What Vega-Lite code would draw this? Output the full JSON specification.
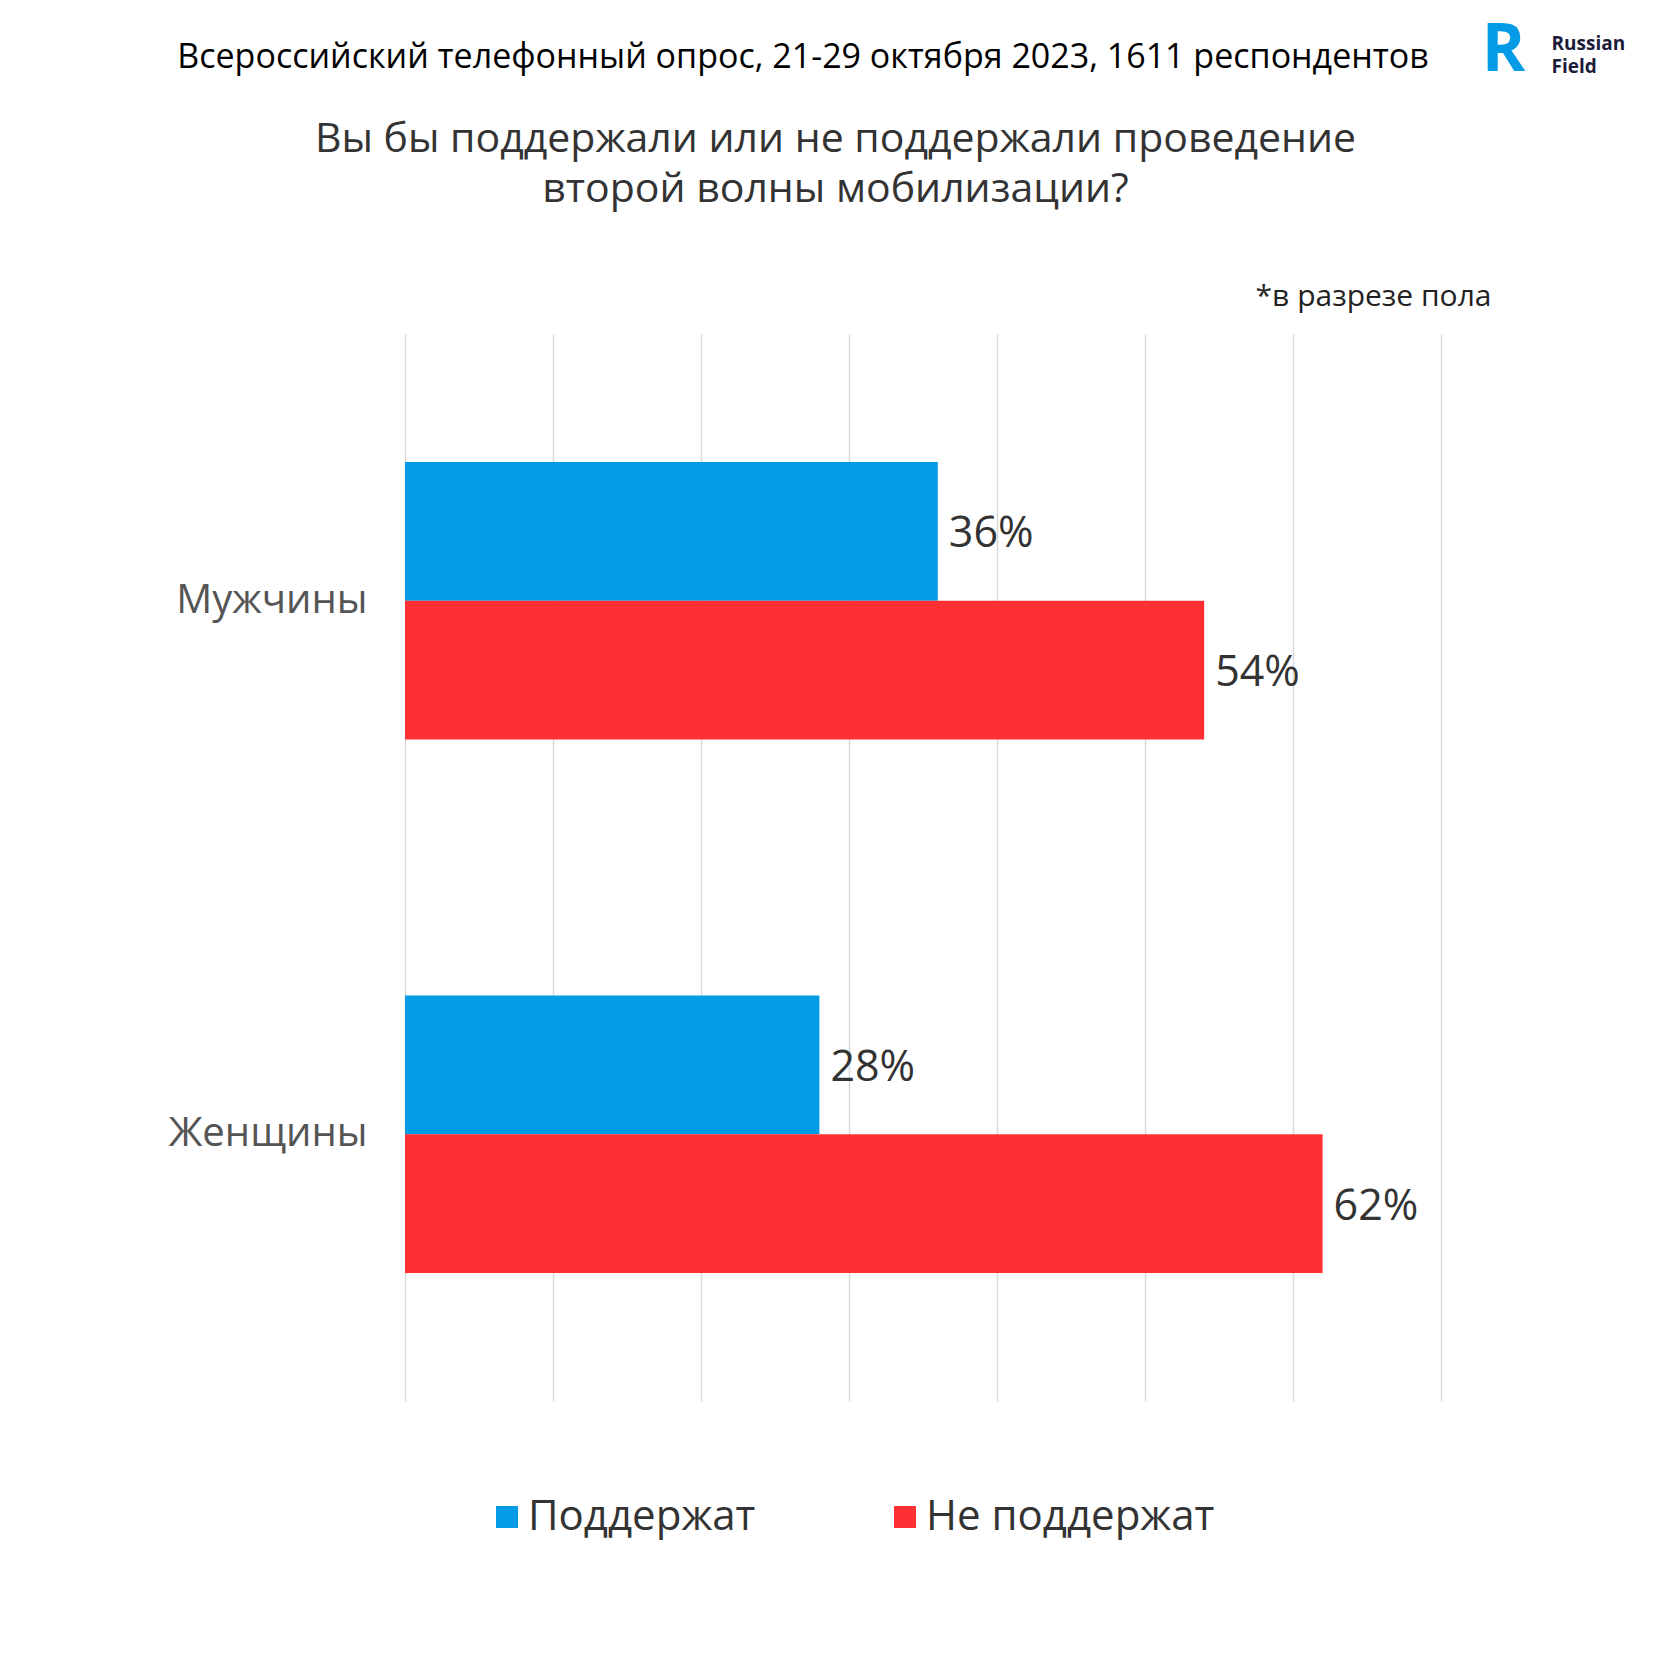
{
  "$schema": "https://vega.github.io/schema/vega-lite/v6.json",
  "autosize": "none",
  "width": 1036,
  "height": 1067,
  "padding": {"left": 405, "top": 334, "right": 239, "bottom": 279},
  "background": "white",
  "config": {"font": "Open Sans", "view": {"stroke": null}},
  "title": {
    "text": "Всероссийский телефонный опрос, 21-29 октября 2023, 1611 респондентов",
    "anchor": "middle",
    "frame": "group",
    "dx": -120,
    "offset": -75,
    "baseline": "middle",
    "fontSize": 34,
    "fontWeight": "normal",
    "color": "#000000"
  },
  "data": {
    "values": [
      {"group": "Мужчины", "answer": "Поддержат", "value": 0.36},
      {"group": "Мужчины", "answer": "Не поддержат", "value": 0.54},
      {"group": "Женщины", "answer": "Поддержат", "value": 0.28},
      {"group": "Женщины", "answer": "Не поддержат", "value": 0.62}
    ]
  },
  "encoding": {
    "y": {
      "field": "group",
      "type": "nominal",
      "sort": ["Мужчины", "Женщины"],
      "scale": {"paddingInner": 0.48, "paddingOuter": 0.24}
    },
    "yOffset": {
      "field": "answer",
      "type": "nominal",
      "sort": ["Поддержат", "Не поддержат"],
      "scale": {"paddingInner": 0, "paddingOuter": 0}
    }
  },
  "layer": [
    {
      "mark": {"type": "bar"},
      "encoding": {
        "x": {
          "field": "value",
          "type": "quantitative",
          "scale": {"domain": [0, 0.7], "nice": false},
          "axis": {
            "orient": "top",
            "values": [0, 0.1, 0.2, 0.3, 0.4, 0.5, 0.6, 0.7],
            "labels": false,
            "ticks": false,
            "domain": false,
            "grid": true,
            "gridColor": "#d9d9d9",
            "gridWidth": 1.5,
            "title": "*в разрезе пола",
            "titleX": 1086,
            "titleY": -38,
            "titleAlign": "right",
            "titleBaseline": "middle",
            "titleFontSize": 30,
            "titleFontWeight": "normal",
            "titleColor": "#222222"
          }
        },
        "color": {
          "field": "answer",
          "type": "nominal",
          "sort": ["Поддержат", "Не поддержат"],
          "scale": {"domain": ["Поддержат", "Не поддержат"], "range": ["#039be5", "#ff3033"]},
          "legend": {
            "orient": "none",
            "legendX": 81,
            "legendY": 1162,
            "direction": "horizontal",
            "title": null,
            "symbolType": "square",
            "symbolSize": 484,
            "symbolStrokeWidth": 0,
            "labelFontSize": 42,
            "labelColor": "#333333",
            "labelOffset": 0,
            "columnPadding": 128,
            "labelLimit": 600
          }
        },
        "y": {
          "field": "group",
          "type": "nominal",
          "sort": ["Мужчины", "Женщины"],
          "scale": {"paddingInner": 0.48, "paddingOuter": 0.24},
          "axis": {
            "orient": "left",
            "ticks": false,
            "domain": false,
            "grid": false,
            "labelFontSize": 40,
            "labelColor": "#555555",
            "labelPadding": 38,
            "labelLimit": 400,
            "title": ["Вы бы поддержали или не поддержали проведение", "второй волны мобилизации?"],
            "titleAngle": 0,
            "titleX": 430,
            "titleY": -215,
            "titleAlign": "center",
            "titleBaseline": "top",
            "titleFontSize": 41,
            "titleFontWeight": "normal",
            "titleColor": "#333333",
            "titleLineHeight": 50
          }
        }
      }
    },
    {
      "mark": {"type": "text", "align": "left", "baseline": "middle", "dx": 11, "dy": 3, "fontSize": 43, "color": "#333333"},
      "encoding": {
        "text": {"field": "value", "type": "quantitative", "format": ".0%"},
        "x": {
          "field": "value",
          "type": "quantitative",
          "scale": {"domain": [0, 0.7], "nice": false},
          "axis": {
            "orient": "bottom",
            "labels": false,
            "ticks": false,
            "domain": false,
            "grid": false,
            "title": "R",
            "titleX": 1098,
            "titleY": -1351,
            "titleAlign": "center",
            "titleBaseline": "middle",
            "titleFontSize": 66,
            "titleFontWeight": "bold",
            "titleColor": "#039be5"
          }
        },
        "y": {
          "field": "group",
          "type": "nominal",
          "sort": ["Мужчины", "Женщины"],
          "scale": {"paddingInner": 0.48, "paddingOuter": 0.24},
          "axis": {
            "orient": "right",
            "labels": false,
            "ticks": false,
            "domain": false,
            "grid": false,
            "title": ["Russian", "Field"],
            "titleAngle": 0,
            "titleX": 110,
            "titleY": -300,
            "titleAlign": "left",
            "titleBaseline": "top",
            "titleFontSize": 19,
            "titleFontWeight": "bold",
            "titleColor": "#1c1c3a",
            "titleLineHeight": 23
          }
        }
      }
    }
  ],
  "resolve": {"axis": {"y": "independent", "x": "independent"}}
}
